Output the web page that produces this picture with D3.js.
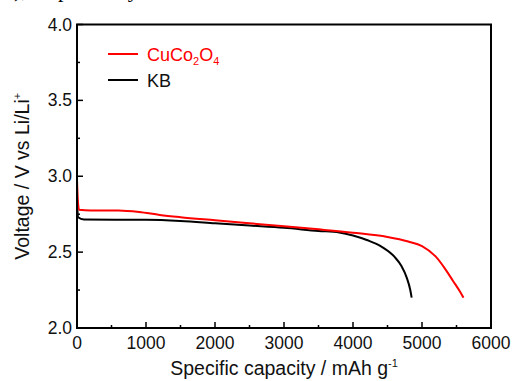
<!DOCTYPE html>
<html>
<head>
<meta charset="utf-8">
<script src="https://cdn.jsdelivr.net/npm/d3@7"></script>
<style>
  body { margin: 0; background: #fff; }
  text { font-family: Arial, "Liberation Sans", sans-serif; }
</style>
</head>
<body>
<div class="chart"></div>
<script>
// discharge curves
var cucoCap  = [0, 10, 30, 200, 600, 900, 1200, 1500, 2000, 2500, 3000, 3500, 4000, 4500, 4800, 5000, 5200, 5350, 5450, 5550, 5600];
var cucoVolt = [2.98, 2.86, 2.78, 2.775, 2.775, 2.765, 2.745, 2.73, 2.71, 2.69, 2.67, 2.65, 2.628, 2.60, 2.57, 2.54, 2.47, 2.38, 2.31, 2.24, 2.20];
var kbCap  = [0, 15, 100, 1000, 1500, 2000, 2500, 3000, 3500, 3800, 4000, 4200, 4400, 4600, 4700, 4780, 4830, 4850];
var kbVolt = [2.85, 2.73, 2.715, 2.713, 2.705, 2.69, 2.675, 2.66, 2.64, 2.63, 2.61, 2.58, 2.54, 2.47, 2.41, 2.33, 2.25, 2.20];

var xTicks = [0, 1000, 2000, 3000, 4000, 5000, 6000];
var yTicks = [2.0, 2.5, 3.0, 3.5, 4.0];

var margin = {top: 24.5, right: 22, bottom: 53, left: 77},
    width = 513 - margin.left - margin.right,
    height = 381 - margin.top - margin.bottom;

var svg = d3.select(".chart")
  .append("svg")
    .attr("width", 513)
    .attr("height", 381);

// caption text from the page above, mostly cut off
svg.append("text")
  .attr("x", 8)
  .attr("y", -3)
  .style("font-family", "'Liberation Serif', 'Times New Roman', serif")
  .style("font-size", "22px")
  .text("i), respectively");

var g = svg.append("g")
  .attr("transform", "translate(" + margin.left + "," + margin.top + ")");

var x = d3.scaleLinear().domain([0, 6000]).range([0, width]);
var y = d3.scaleLinear().domain([2.0, 4.0]).range([height, 0]);

// minor ticks
var xMinor = d3.range(500, 6000, 1000);
var yMinor = d3.range(2.25, 4.0, 0.5);

g.selectAll(".xminor").data(xMinor).enter().append("line")
  .attr("x1", function(d) { return x(d); }).attr("x2", function(d) { return x(d); })
  .attr("y1", height).attr("y2", height - 3)
  .attr("stroke", "#000").attr("stroke-width", 1.5);
g.selectAll(".xmajor").data(xTicks).enter().append("line")
  .attr("x1", function(d) { return x(d); }).attr("x2", function(d) { return x(d); })
  .attr("y1", height).attr("y2", height - 6)
  .attr("stroke", "#000").attr("stroke-width", 1.5);
g.selectAll(".yminor").data(yMinor).enter().append("line")
  .attr("y1", function(d) { return y(d); }).attr("y2", function(d) { return y(d); })
  .attr("x1", 0).attr("x2", 3)
  .attr("stroke", "#000").attr("stroke-width", 1.5);
g.selectAll(".ymajor").data(yTicks).enter().append("line")
  .attr("y1", function(d) { return y(d); }).attr("y2", function(d) { return y(d); })
  .attr("x1", 0).attr("x2", 6)
  .attr("stroke", "#000").attr("stroke-width", 1.5);

// tick labels
g.selectAll(".xlab").data(xTicks).enter().append("text")
  .attr("x", function(d) { return x(d); })
  .attr("y", height + 21)
  .attr("text-anchor", "middle")
  .style("font-size", "17.5px")
  .attr("fill", "#111")
  .text(function(d) { return d; });
g.selectAll(".ylab").data(yTicks).enter().append("text")
  .attr("x", -5)
  .attr("y", function(d) { return y(d) + 6; })
  .attr("text-anchor", "end")
  .style("font-size", "17.5px")
  .attr("fill", "#111")
  .text(function(d) { return d.toFixed(1); });

// lines
var line = d3.line()
  .x(function(d) { return x(d[0]); })
  .y(function(d) { return y(d[1]); })
  .curve(d3.curveMonotoneX);

g.append("path")
  .datum(kbCap.map(function(c, i) { return [c, kbVolt[i]]; }))
  .attr("fill", "none").attr("stroke", "#000").attr("stroke-width", 2)
  .attr("d", line);
g.append("path")
  .datum(cucoCap.map(function(c, i) { return [c, cucoVolt[i]]; }))
  .attr("fill", "none").attr("stroke", "#ff0000").attr("stroke-width", 2)
  .attr("d", line);

// frame
g.append("rect")
  .attr("width", width).attr("height", height)
  .attr("fill", "none").attr("stroke", "#000").attr("stroke-width", 2);

// legend
var legend = svg.append("g");
legend.append("line").attr("x1", 108).attr("x2", 138).attr("y1", 54).attr("y2", 54)
  .attr("stroke", "#ff0000").attr("stroke-width", 2);
var t1 = legend.append("text").attr("x", 147).attr("y", 61)
  .style("font-size", "18px").attr("fill", "#ff0000");
t1.append("tspan").text("CuCo");
t1.append("tspan").attr("dy", 4).style("font-size", "11px").text("2");
t1.append("tspan").attr("dy", -4).text("O");
t1.append("tspan").attr("dy", 4).style("font-size", "11px").text("4");

legend.append("line").attr("x1", 108).attr("x2", 138).attr("y1", 80).attr("y2", 80)
  .attr("stroke", "#000").attr("stroke-width", 2);
legend.append("text").attr("x", 147).attr("y", 87)
  .style("font-size", "18px").attr("fill", "#111").text("KB");

// axis titles
var xt = svg.append("text")
  .attr("x", margin.left + width / 2)
  .attr("y", 375)
  .attr("text-anchor", "middle")
  .style("font-size", "19.5px").attr("fill", "#111");
xt.append("tspan").text("Specific capacity / mAh g");
xt.append("tspan").attr("dy", -8).style("font-size", "11px").text("-1");

var yt = svg.append("text")
  .attr("transform", "translate(29," + (margin.top + height / 2) + ") rotate(-90)")
  .attr("text-anchor", "middle")
  .style("font-size", "19.5px").attr("fill", "#111");
yt.append("tspan").text("Voltage / V vs Li/Li");
yt.append("tspan").attr("dy", -8).style("font-size", "11px").text("+");
</script>
</body>
</html>
